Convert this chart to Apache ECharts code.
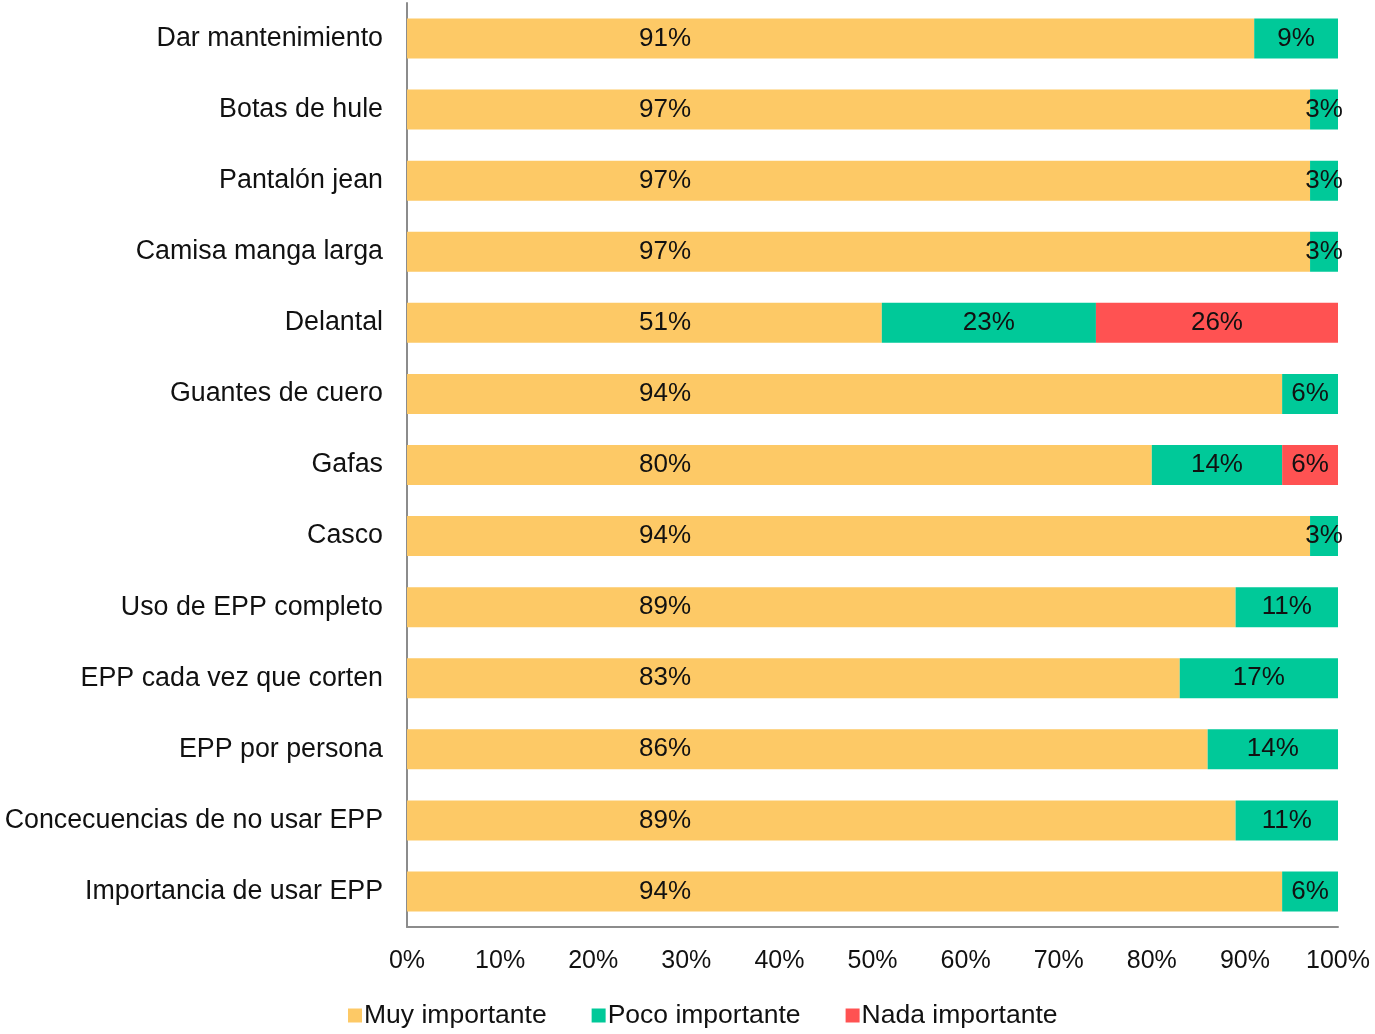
<!DOCTYPE html>
<html>
<head>
<meta charset="utf-8">
<script src="https://cdn.jsdelivr.net/npm/echarts@6/dist/echarts.min.js"></script>
<style>
  html, body { margin: 0; padding: 0; background: #fff; }
  #chart { width: 1375px; height: 1034px; }
</style>
</head>
<body>
<div id="chart"></div>
<script>
  const categories = ['Dar mantenimiento', 'Botas de hule', 'Pantalón jean', 'Camisa manga larga', 'Delantal',
    'Guantes de cuero', 'Gafas', 'Casco', 'Uso de EPP completo', 'EPP cada vez que corten',
    'EPP por persona', 'Concecuencias de no usar EPP', 'Importancia de usar EPP']
  // bar lengths as drawn
  const muy = [91, 97, 97, 97, 51, 94, 80, 97, 89, 83, 86, 89, 94]
  const poco = [9, 3, 3, 3, 23, 6, 14, 3, 11, 17, 14, 11, 6]
  const nada = [0, 0, 0, 0, 26, 0, 6, 0, 0, 0, 0, 0, 0]
  // labels printed on the yellow bars (Casco says 94% though the bar reaches 97%)
  const muyLabels = ['91%', '97%', '97%', '97%', '51%', '94%', '80%', '94%', '89%', '83%', '86%', '89%', '94%']
  const seriesNames = ['Muy importante', 'Poco importante', 'Nada importante']
  const colors = ['#FDC966', '#00C999', '#FF5252']

  const font = 'Liberation Sans, Arial, sans-serif'
  const chart = echarts.init(document.getElementById('chart'))

  const pctLabel = (p) => p.value ? p.value + '%' : ''

  chart.setOption({
    animation: false,
    textStyle: { fontFamily: font },
    grid: { left: 407, right: 37, top: 3, bottom: 107 },
    legend: {
      left: 343,
      top: 997,
      itemWidth: 14,
      itemHeight: 14,
      itemGap: 45,
      icon: 'rect',
      textStyle: { fontSize: 26.5, color: '#111', fontFamily: font, padding: [0, 0, 0, -3] },
      data: seriesNames
    },
    xAxis: {
      type: 'value',
      min: 0,
      max: 100,
      interval: 10,
      axisLine: { show: true, lineStyle: { color: '#8c8c8c', width: 2 } },
      axisTick: { show: false },
      splitLine: { show: false },
      axisLabel: { formatter: '{value}%', fontSize: 25, color: '#111', margin: 22, fontFamily: font }
    },
    yAxis: {
      type: 'category',
      inverse: true,
      data: categories,
      axisLine: { show: true, lineStyle: { color: '#8c8c8c', width: 2 } },
      axisTick: { show: false },
      axisLabel: { fontSize: 26.8, color: '#111', margin: 24, fontFamily: font }
    },
    series: [
      {
        name: seriesNames[0],
        type: 'bar',
        stack: 'total',
        barWidth: 40,
        itemStyle: { color: colors[0] },
        label: {
          show: true,
          position: [258, '50%'],
          align: 'center',
          verticalAlign: 'middle',
          fontSize: 26,
          color: '#111',
          fontFamily: font,
          formatter: (p) => muyLabels[p.dataIndex]
        },
        data: muy
      },
      {
        name: seriesNames[1],
        type: 'bar',
        stack: 'total',
        barWidth: 40,
        itemStyle: { color: colors[1] },
        label: { show: true, position: 'inside', fontSize: 26, color: '#111', fontFamily: font, formatter: pctLabel },
        data: poco
      },
      {
        name: seriesNames[2],
        type: 'bar',
        stack: 'total',
        barWidth: 40,
        itemStyle: { color: colors[2] },
        label: { show: true, position: 'inside', fontSize: 26, color: '#111', fontFamily: font, formatter: pctLabel },
        data: nada
      }
    ]
  })
</script>
</body>
</html>
